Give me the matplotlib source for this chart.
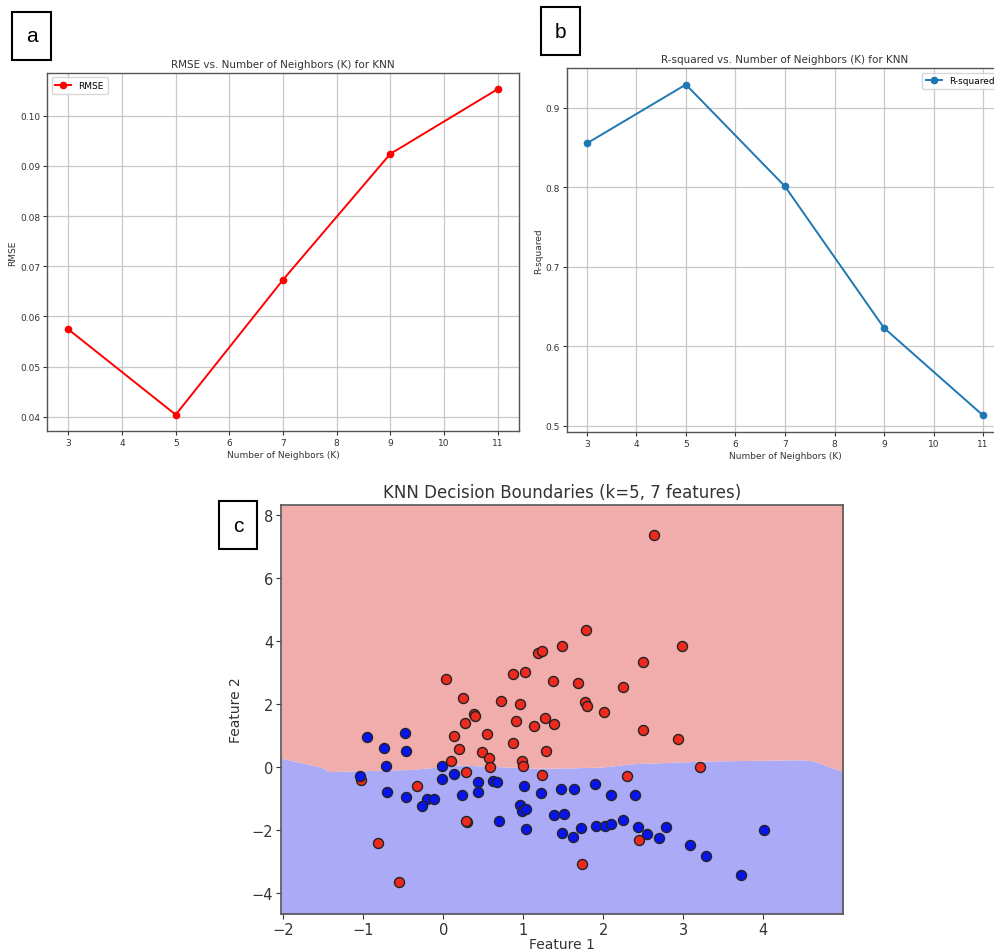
import numpy as np
import matplotlib
matplotlib.use("Agg")
import matplotlib.pyplot as plt

# panel a / b data
k_values = [3, 5, 7, 9, 11]
rmse = [0.0574, 0.0404, 0.0673, 0.0924, 0.1053]
r_squared = [0.855, 0.929, 0.801, 0.623, 0.513]

# panel c data
red_x = [0.04, 0.25, 0.72, 0.96, 0.87, 1.02, 1.18, 1.24, 1.48, 1.37, 0.39, 0.40,
         0.27, 0.91, 1.27, 1.38, 1.14, 0.55, 0.14, 2.64, 1.79, 2.98, 2.50, 1.68,
         2.25, 1.77, 1.80, 2.01, 2.50, 2.94, 0.87, 0.20, 0.48, 1.29, 0.57, 0.10,
         0.99, 1.00, 0.59, -1.03, 0.28, 1.24, -0.33, 0.30, 0.29, -0.82, -0.56,
         3.21, 2.30, 2.45, 1.74]
red_y = [2.79, 2.19, 2.10, 2.01, 2.96, 3.03, 3.63, 3.68, 3.84, 2.72, 1.68, 1.63,
         1.40, 1.45, 1.57, 1.37, 1.31, 1.06, 0.97, 7.37, 4.34, 3.85, 3.32, 2.66,
         2.53, 2.05, 1.94, 1.75, 1.18, 0.89, 0.76, 0.56, 0.48, 0.52, 0.28, 0.20,
         0.18, 0.04, 0.00, -0.42, -0.17, -0.26, -0.61, -1.76, -1.72, -2.41, -3.67,
         0.00, -0.30, -2.32, -3.07]
blue_x = [-0.48, -0.95, -0.74, -0.47, -0.72, -0.02, -1.04, 0.13, -0.01, 0.44,
          0.62, 0.67, 1.01, 1.47, -0.71, 0.43, 0.23, 1.22, -0.47, -0.20, -0.11,
          -0.27, 0.96, 0.99, 1.03, 1.38, 1.51, 0.70, 1.03, 1.48, 1.62, 1.90, 1.64,
          2.10, 2.40, 1.72, 1.91, 2.02, 2.10, 2.25, 2.43, 2.55, 2.70, 2.79, 3.09,
          3.29, 3.72, 4.01]
blue_y = [1.08, 0.96, 0.61, 0.52, 0.02, 0.02, -0.30, -0.21, -0.37, -0.48, -0.44,
          -0.47, -0.60, -0.71, -0.78, -0.79, -0.88, -0.83, -0.94, -1.01, -1.02,
          -1.25, -1.20, -1.40, -1.34, -1.53, -1.49, -1.72, -1.98, -2.10, -2.22,
          -0.53, -0.71, -0.90, -0.89, -1.95, -1.88, -1.88, -1.81, -1.68, -1.90,
          -2.14, -2.25, -1.90, -2.47, -2.83, -3.42, -2.00]

# approximate decision boundary (feature 2 value where class changes)
bound_x = [-2.03, -1.54, -1.41, -1.20, -0.41, 0.21, 1.17, 1.59, 2.0, 2.34, 3.30, 4.50, 4.63, 5.00]
bound_y = [0.28, 0.00, -0.15, -0.13, -0.08, 0.06, -0.04, -0.03, 0.0, 0.10, 0.19, 0.23, 0.19, -0.15]

txt_col = "#333333"

fig = plt.figure(figsize=(9.94, 9.53), dpi=100)


def style_small(ax):
    ax.grid(True, color="#c8c8c8", linewidth=0.9)
    ax.set_axisbelow(True)
    for s in ax.spines.values():
        s.set_color("#555555")
        s.set_linewidth(1.0)
    ax.tick_params(labelsize=6.5, colors=txt_col, length=3, width=0.8, pad=2)


# panel a
ax1 = fig.add_axes([0.0473, 0.5467, 0.4748, 0.3757])
ax1.plot(k_values, rmse, "o-", color="red", markersize=4.5, linewidth=1.4, label="RMSE")
ax1.set_xticks(range(3, 12))
ax1.set_title("RMSE vs. Number of Neighbors (K) for KNN", fontsize=7.5, color=txt_col, pad=4)
ax1.set_xlabel("Number of Neighbors (K)", fontsize=6.5, color=txt_col, labelpad=2)
ax1.set_ylabel("RMSE", fontsize=6.5, color=txt_col, labelpad=2)
ax1.legend(loc="upper left", fontsize=6.5, handlelength=1.8)
style_small(ax1)

# panel b (runs off the right edge like the source)
ax2 = fig.add_axes([0.5704, 0.5456, 0.4386, 0.3820])
ax2.plot(k_values, r_squared, "o-", color="#1f77b4", markersize=4.5, linewidth=1.4, label="R-squared")
ax2.set_xticks(range(3, 12))
ax2.set_title("R-squared vs. Number of Neighbors (K) for KNN", fontsize=7.5, color=txt_col, pad=4)
ax2.set_xlabel("Number of Neighbors (K)", fontsize=6.5, color=txt_col, labelpad=2)
ax2.set_ylabel("R-squared", fontsize=6.5, color=txt_col, labelpad=2)
ax2.legend(loc="upper right", fontsize=6.5, handlelength=1.8)
style_small(ax2)

# panel c
ax3 = fig.add_axes([0.2827, 0.0399, 0.5654, 0.4291])
ylo, yhi = -4.67, 8.32
ax3.fill_between(bound_x, ylo, bound_y, color="#aaaaf6", linewidth=0)
ax3.fill_between(bound_x, bound_y, yhi, color="#f1acac", linewidth=0)
ax3.scatter(red_x, red_y, s=52, c="#ee2a1e", edgecolors="#222222", linewidths=1.0, zorder=3)
ax3.scatter(blue_x, blue_y, s=52, c="#0814ee", edgecolors="#222222", linewidths=1.0, zorder=3)
ax3.set_xlim(-2.03, 5.0)
ax3.set_ylim(ylo, yhi)
ax3.set_xticks([-2, -1, 0, 1, 2, 3, 4])
ax3.set_yticks([-4, -2, 0, 2, 4, 6, 8])
ax3.set_xticklabels(["\u22122", "\u22121", "0", "1", "2", "3", "4"])
ax3.set_yticklabels(["\u22124", "\u22122", "0", "2", "4", "6", "8"])
ax3.tick_params(labelsize=10.5, colors=txt_col, pad=2)
for s in ax3.spines.values():
    s.set_color("#555555")
    s.set_linewidth(1.2)
ax3.set_title("KNN Decision Boundaries (k=5, 7 features)", fontsize=12, color=txt_col, pad=6)
ax3.set_xlabel("Feature 1", fontsize=10, color=txt_col, labelpad=0)
ax3.set_ylabel("Feature 2", fontsize=10, color=txt_col, labelpad=6)

# panel label boxes
for lab, x0, y0, x1, y1 in [("a", 12, 13, 51, 61), ("b", 541, 8, 580, 56), ("c", 219, 502, 257, 550)]:
    fig.patches.append(plt.Rectangle((x0 / 994, 1 - y1 / 953), (x1 - x0) / 994, (y1 - y0) / 953,
                                     transform=fig.transFigure, fill=False, edgecolor="black",
                                     linewidth=1.5))
    fig.text((x0 + x1) / 2 / 994, 1 - (y0 + y1) / 2 / 953, lab, fontsize=15,
             ha="center", va="center", family="Liberation Sans")

fig.savefig("out.png", dpi=100)
